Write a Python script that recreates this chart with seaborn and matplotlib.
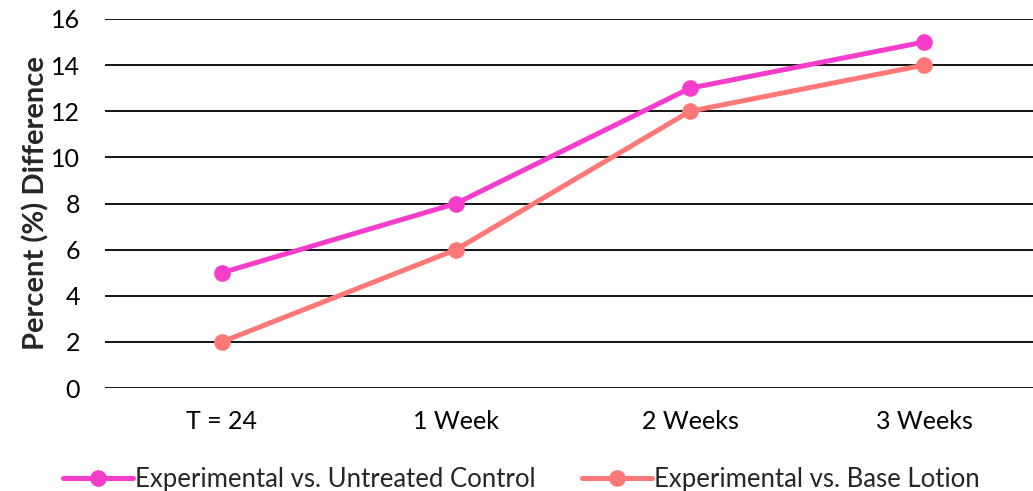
import seaborn as sns
import matplotlib.pyplot as plt
import pandas as pd

# data
timepoints = ['T = 24', '1 Week', '2 Weeks', '3 Weeks']
untreated = [5, 8, 13, 15]
base_lotion = [2, 6, 12, 14]
series_names = ['Experimental vs. Untreated Control', 'Experimental vs. Base Lotion']

df = pd.DataFrame({
    'time': timepoints * 2,
    'diff': untreated + base_lotion,
    'series': [series_names[0]] * 4 + [series_names[1]] * 4,
})

sns.set_style('white')
plt.rcParams['font.family'] = ['Lato', 'DejaVu Sans']

fig = plt.figure(figsize=(10.33, 4.91), dpi=100)
ax = fig.add_axes([105/1033, 103/491, 936/1033, 369/491])

palette = {series_names[0]: '#F53DCB', series_names[1]: '#FF7878'}
sns.lineplot(data=df, x='time', y='diff', hue='series', palette=palette,
             marker='o', markersize=12, markeredgewidth=0, linewidth=3.6,
             ax=ax, legend=False, sort=False)

ax.set_xlim(-0.5, 3.5)
ax.set_ylim(0, 16)
ax.set_yticks(range(0, 17, 2))
ax.yaxis.grid(True, color='black', linewidth=1.3)
ax.xaxis.grid(False)
ax.set_axisbelow(True)
for s in ax.spines.values():
    s.set_visible(False)
ax.tick_params(axis='both', labelsize=18, length=0, colors='black')
ax.tick_params(axis='x', pad=16)
ax.tick_params(axis='y', pad=18)
ax.set_xlabel('')
ax.set_ylabel('Percent (%) Difference', fontsize=21, fontweight='bold', labelpad=1)

handles = [plt.Line2D([], [], color=palette[n], marker='o', markersize=12,
                      markeredgewidth=0, linewidth=3.6) for n in series_names]
fig.legend(handles, series_names, loc='lower center', ncol=2, frameon=False,
           fontsize=18.5, handlelength=2.7, handletextpad=0.1, columnspacing=1.8,
           bbox_to_anchor=(0.505, -0.05))

fig.savefig('out.png', dpi=100)
